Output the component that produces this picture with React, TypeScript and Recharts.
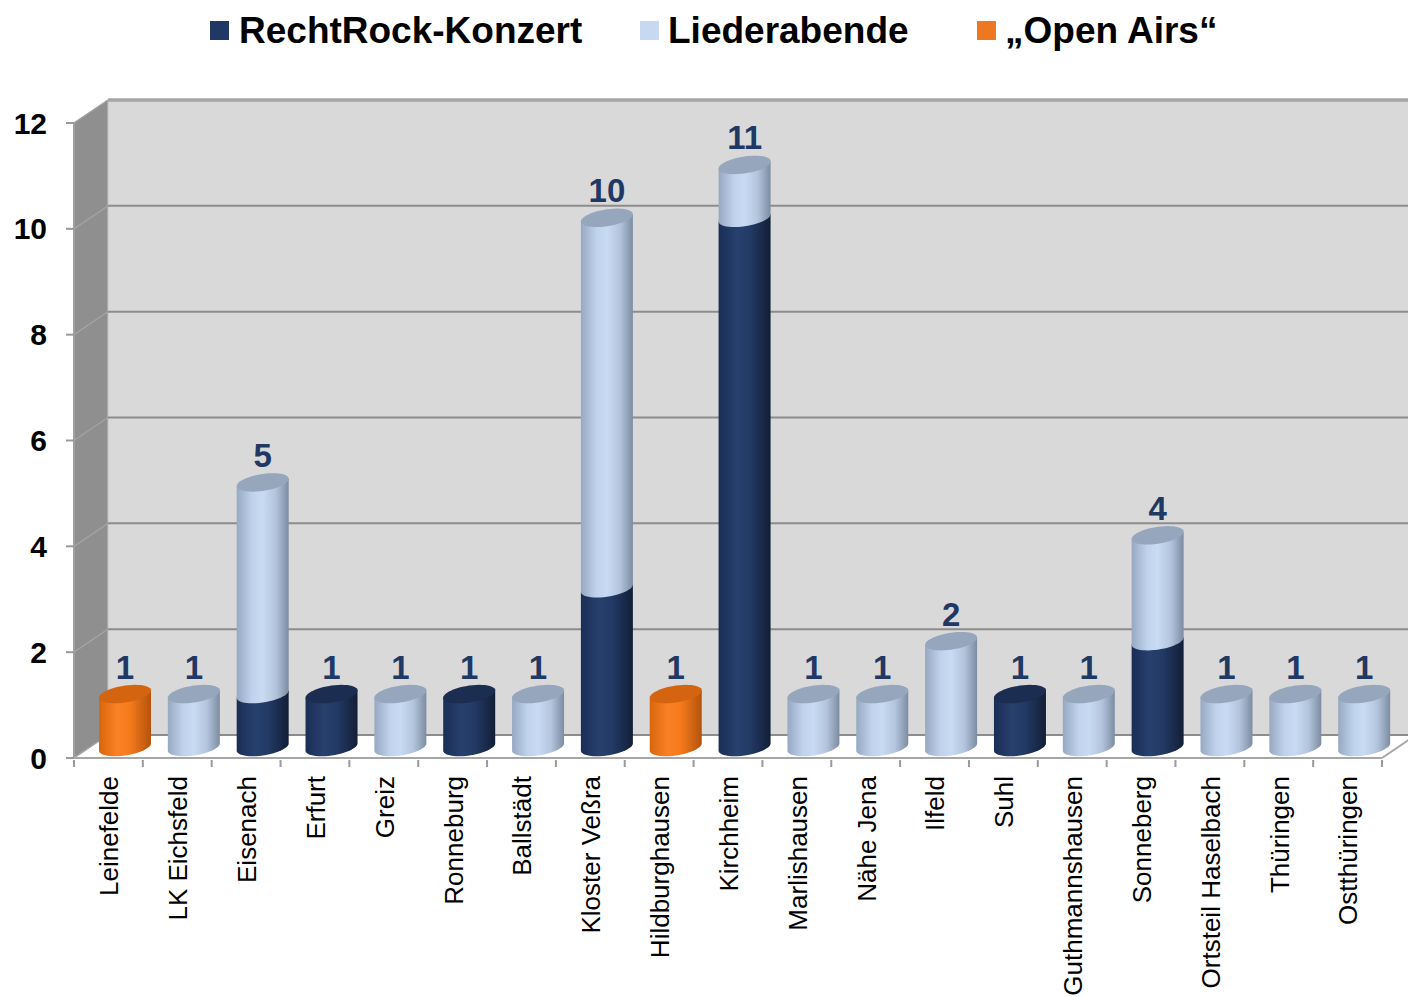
import React from 'react';
import { BarChart, Bar, XAxis, YAxis, CartesianGrid } from 'recharts';

// --- data ---
const categories = [
  'Leinefelde', 'LK Eichsfeld', 'Eisenach', 'Erfurt', 'Greiz', 'Ronneburg', 'Ballstädt',
  'Kloster Veßra', 'Hildburghausen', 'Kirchheim', 'Marlishausen', 'Nähe Jena', 'Ilfeld',
  'Suhl', 'Guthmannshausen', 'Sonneberg', 'Ortsteil Haselbach', 'Thüringen', 'Ostthüringen',
];
const rechtRock = [0, 0, 1, 1, 0, 1, 0, 3, 0, 10, 0, 0, 0, 1, 0, 2, 0, 0, 0];
const liederabende = [0, 1, 4, 0, 1, 0, 1, 7, 0, 1, 1, 1, 2, 0, 1, 2, 1, 1, 1];
const openAirs = [1, 0, 0, 0, 0, 0, 0, 0, 1, 0, 0, 0, 0, 0, 0, 0, 0, 0, 0];
const yTicks = [0, 2, 4, 6, 8, 10, 12];

const seriesKeys = ['rechtRock', 'liederabende', 'openAirs'];

const data = categories.map((name, i) => ({
  name,
  rechtRock: rechtRock[i],
  liederabende: liederabende[i],
  openAirs: openAirs[i],
  total: rechtRock[i] + liederabende[i] + openAirs[i],
}));

// --- layout ---
const W = 1408;
const H = 997;
const PLOT_LEFT = 74;
const PLOT_RIGHT = 1382;
const PLOT_TOP = 123;
const PLOT_BOTTOM = 758;
const DX = 34; // depth of the 3d box
const DY = 23;
const BAND = (PLOT_RIGHT - PLOT_LEFT) / categories.length;

const SHIFT_X = 17;
const LIFT = 11;
const RY = 8.5;
const SHEAR = -0.14;

const FONT = "'Liberation Sans', Arial, Helvetica, sans-serif";
const NAVY = '#1f3864';

function makeCylinder(key: string, gradId: string, topFill: string) {
  const idx = seriesKeys.indexOf(key);
  return (props: any) => {
    const { x, y, width, height, payload } = props;
    if (!payload || !payload[key]) return null;
    const rx = width / 2;
    const cx = x + rx + SHIFT_X;
    const top = y - LIFT;
    const bottom = y + height - LIFT;
    const left = cx - rx;
    const right = cx + rx;
    const isTop = seriesKeys.slice(idx + 1).every((k) => !payload[k]);

    const body: number[][] = [[left, top - SHEAR * rx]];
    for (let s = 0; s <= 24; s++) {
      const t = Math.PI - (Math.PI * s) / 24;
      body.push([cx + rx * Math.cos(t), bottom + RY * Math.sin(t) + SHEAR * rx * Math.cos(t)]);
    }
    body.push([right, top + SHEAR * rx]);
    const bodyPath = 'M' + body.map((p) => p[0].toFixed(2) + ',' + p[1].toFixed(2)).join('L') + 'Z';

    let capPath = '';
    if (isTop) {
      const cap: number[][] = [];
      for (let s = 0; s < 48; s++) {
        const t = (2 * Math.PI * s) / 48;
        cap.push([cx + rx * Math.cos(t), top + RY * Math.sin(t) + SHEAR * rx * Math.cos(t)]);
      }
      capPath = 'M' + cap.map((p) => p[0].toFixed(2) + ',' + p[1].toFixed(2)).join('L') + 'Z';
    }

    return (
      <g>
        <path d={bodyPath} fill={`url(#${gradId})`} />
        {isTop && <path d={capPath} fill={topFill} />}
        {isTop && (
          <text
            x={cx}
            y={top - RY - 7}
            textAnchor="middle"
            fontFamily={FONT}
            fontWeight="bold"
            fontSize={33}
            fill={NAVY}
          >
            {payload.total}
          </text>
        )}
      </g>
    );
  };
}

const darkShape = makeCylinder('rechtRock', 'gDark', '#1b2d50');
const lightShape = makeCylinder('liederabende', 'gLight', '#95a6bd');
const orangeShape = makeCylinder('openAirs', 'gOrange', '#d4640f');

const XTick = (props: any) => {
  const { x, payload, index } = props;
  const tickTop = PLOT_BOTTOM + 2;
  return (
    <g>
      <line x1={x - BAND / 2} y1={tickTop} x2={x - BAND / 2} y2={tickTop + 7} stroke="#9a9a9a" strokeWidth={2} />
      {index === categories.length - 1 && (
        <line x1={x + BAND / 2} y1={tickTop} x2={x + BAND / 2} y2={tickTop + 7} stroke="#9a9a9a" strokeWidth={2} />
      )}
      <text
        transform={`translate(${x},${PLOT_BOTTOM + 18}) rotate(-90)`}
        textAnchor="end"
        dy="0.38em"
        fontFamily={FONT}
        fontSize={26}
        fill="#000"
      >
        {payload.value}
      </text>
    </g>
  );
};

const gridLine = (props: any) => {
  const { x1, y1, x2, index } = props;
  const top = index === yTicks.length - 1 || y1 <= PLOT_TOP + 1;
  return (
    <g key={`grid-${index}-${y1}`}>
      <line x1={x1} y1={y1} x2={x1 + DX} y2={y1 - DY} stroke="#a2a2a2" strokeWidth={1.5} />
      <line
        x1={x1 + DX}
        y1={y1 - DY}
        x2={x2 + DX}
        y2={y1 - DY}
        stroke={top ? '#a6a6a6' : '#8c8c8c'}
        strokeWidth={top ? 3 : 2}
      />
    </g>
  );
};

const legendItems = [
  { label: 'RechtRock-Konzert', color: '#1f3864', sq: 210, tx: 239 },
  { label: 'Liederabende', color: '#c6d9f1', sq: 640, tx: 668 },
  { label: '„Open Airs“', color: '#ee7722', sq: 977, tx: 1005 },
];

export default function App() {
  return (
    <div style={{ position: 'absolute', left: 0, top: 0, width: W, height: H, background: '#fff' }}>
      {/* 3d box behind the chart */}
      <svg width={W} height={H} style={{ position: 'absolute', left: 0, top: 0 }}>
        <polygon
          points={`${PLOT_LEFT - 1},${PLOT_TOP} ${PLOT_LEFT + DX},${PLOT_TOP - DY} ${PLOT_LEFT + DX},${PLOT_BOTTOM - DY} ${PLOT_LEFT - 1},${PLOT_BOTTOM}`}
          fill="#8f8f8f"
        />
        <rect x={PLOT_LEFT + DX} y={PLOT_TOP - DY} width={W} height={PLOT_BOTTOM - PLOT_TOP} fill="#d9d9d9" />
        <line x1={PLOT_LEFT + DX} y1={PLOT_TOP - DY} x2={PLOT_LEFT + DX} y2={PLOT_BOTTOM - DY} stroke="#c4c4c4" strokeWidth={1} />
        <polygon
          points={`${PLOT_LEFT},${PLOT_BOTTOM} ${PLOT_LEFT + DX},${PLOT_BOTTOM - DY} ${PLOT_RIGHT + DX},${PLOT_BOTTOM - DY} ${PLOT_RIGHT},${PLOT_BOTTOM}`}
          fill="#fff"
        />
        <line x1={PLOT_LEFT + DX} y1={PLOT_TOP - DY} x2={W} y2={PLOT_TOP - DY} stroke="#a6a6a6" strokeWidth={3} />
        <line x1={PLOT_LEFT + DX} y1={PLOT_BOTTOM - DY} x2={W} y2={PLOT_BOTTOM - DY} stroke="#9a9a9a" strokeWidth={2} />
        <line x1={PLOT_RIGHT} y1={PLOT_BOTTOM} x2={PLOT_RIGHT + DX} y2={PLOT_BOTTOM - DY} stroke="#a6a6a6" strokeWidth={2} />
        {legendItems.map((it) => (
          <g key={it.label}>
            <rect x={it.sq} y={21} width={19} height={19} fill={it.color} />
            <text x={it.tx} y={43} fontFamily={FONT} fontWeight="bold" fontSize={37} fill="#000">
              {it.label}
            </text>
          </g>
        ))}
      </svg>

      <div style={{ position: 'absolute', left: 0, top: 0 }}>
        <BarChart
          width={W}
          height={H}
          data={data}
          margin={{ top: PLOT_TOP, right: W - PLOT_RIGHT, left: 0, bottom: 0 }}
          barSize={52}
        >
          <defs>
            <linearGradient id="gDark" x1="0" y1="0" x2="1" y2="0">
              <stop offset="0" stopColor="#1a2e55" />
              <stop offset="0.35" stopColor="#27406e" />
              <stop offset="0.6" stopColor="#233a65" />
              <stop offset="1" stopColor="#121e37" />
            </linearGradient>
            <linearGradient id="gLight" x1="0" y1="0" x2="1" y2="0">
              <stop offset="0" stopColor="#97a9c2" />
              <stop offset="0.3" stopColor="#c0d3ec" />
              <stop offset="0.5" stopColor="#c8dbf3" />
              <stop offset="0.75" stopColor="#b3c5dd" />
              <stop offset="1" stopColor="#7c8ca2" />
            </linearGradient>
            <linearGradient id="gOrange" x1="0" y1="0" x2="1" y2="0">
              <stop offset="0" stopColor="#d9650c" />
              <stop offset="0.35" stopColor="#fb8125" />
              <stop offset="0.6" stopColor="#f47a1c" />
              <stop offset="1" stopColor="#b4520b" />
            </linearGradient>
          </defs>
          <CartesianGrid vertical={false} horizontal={gridLine} />
          <XAxis
            dataKey="name"
            height={H - PLOT_BOTTOM}
            interval={0}
            tickLine={false}
            axisLine={{ stroke: '#a6a6a6', strokeWidth: 2 }}
            tick={XTick}
          />
          <YAxis
            type="number"
            domain={[0, 12]}
            ticks={yTicks}
            interval={0}
            width={PLOT_LEFT}
            tickSize={8}
            tickMargin={19}
            tickLine={{ stroke: '#9a9a9a', strokeWidth: 2 }}
            axisLine={{ stroke: '#a0a0a0', strokeWidth: 2 }}
            tick={{ fontFamily: FONT, fontWeight: 'bold', fontSize: 30, fill: '#000' }}
          />
          <Bar dataKey="rechtRock" stackId="a" fill="url(#gDark)" shape={darkShape} isAnimationActive={false} />
          <Bar dataKey="liederabende" stackId="a" fill="url(#gLight)" shape={lightShape} isAnimationActive={false} />
          <Bar dataKey="openAirs" stackId="a" fill="url(#gOrange)" shape={orangeShape} isAnimationActive={false} />
        </BarChart>
      </div>
    </div>
  );
}
